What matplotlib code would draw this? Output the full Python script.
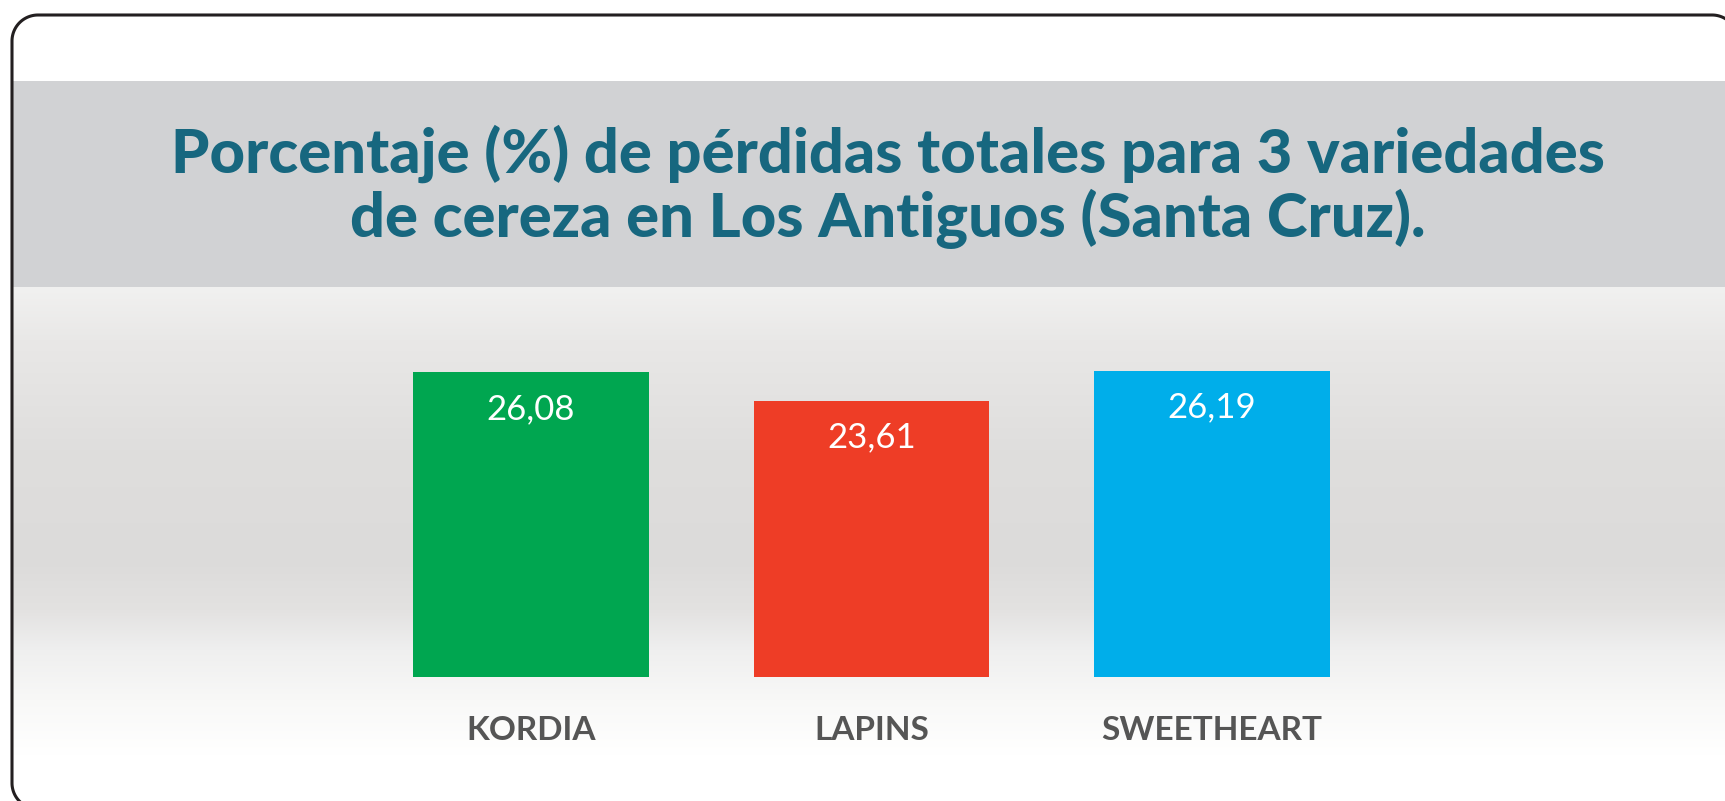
import numpy as np
import matplotlib.pyplot as plt
from matplotlib.patches import Rectangle, PathPatch
from matplotlib.path import Path

# datos
variedades = ['KORDIA', 'LAPINS', 'SWEETHEART']
perdidas = [26.08, 23.61, 26.19]
etiquetas = ['26,08', '23,61', '26,19']
colores = ['#00a650', '#ee3d26', '#00aeea']

titulo = ['Porcentaje (%) de pérdidas totales para 3 variedades',
          'de cereza en Los Antiguos (Santa Cruz).']

W, H = 1725, 801
fig = plt.figure(figsize=(W / 100, H / 100), dpi=100)
fig.patch.set_facecolor('white')

# fondo dibujado en coordenadas de pixel
bg = fig.add_axes([0, 0, 1, 1])
bg.set_xlim(0, W)
bg.set_ylim(H, 0)
bg.axis('off')


def arco(cx, cy, r, a0, a1, n=30):
    a = np.radians(np.linspace(a0, a1, n))
    return np.column_stack([cx + r * np.cos(a), cy + r * np.sin(a)])


# marco redondeado (y hacia abajo)
r = 26
pts = np.vstack([
    arco(12 + r, 783, r, 115, 180),       # esquina inferior izquierda
    arco(12 + r, 15 + r, r, 180, 270),    # esquina superior izquierda
    arco(1712, 15 + r, r, 270, 330),      # esquina superior derecha
])
borde = Path(pts)
cerrado = Path(np.vstack([pts, [[W + 50, 80], [W + 50, H + 50], [0, H + 50]], pts[:1]]))
clip = PathPatch(cerrado, fc='none', ec='none', transform=bg.transData)

# degradado gris del area del grafico
ys = np.array([287, 340, 450, 560, 610, 650, 700, 755])
cols = ['#f1f1f0', '#e9e8e7', '#dfdedd', '#dcdbda', '#e3e2e1', '#efefef', '#f8f8f7', '#ffffff']
rgb = np.array([[int(c[i:i + 2], 16) / 255 for i in (1, 3, 5)] for c in cols])
yy = np.arange(287, 756)
grad = np.stack([np.interp(yy, ys, rgb[:, k]) for k in range(3)], axis=1)[:, None, :]
im = bg.imshow(grad, extent=[12, W, 755, 287], aspect='auto', interpolation='bilinear', zorder=1)
im.set_clip_path(clip)
bg.set_xlim(0, W)
bg.set_ylim(H, 0)

# banda del titulo
banda = Rectangle((12, 81), W, 206, fc='#d1d2d4', ec='none', zorder=2)
bg.add_patch(banda)
banda.set_clip_path(clip)

bg.add_patch(PathPatch(borde, fc='none', ec='#231f20', lw=2.2, zorder=5, capstyle='butt'))

# titulo, ajustado al ancho de la primera linea
t1 = bg.text(888, 173, titulo[0], ha='center', va='baseline', fontsize=40,
             family='Lato', weight='black', color='#17677f', zorder=6)
fig.canvas.draw()
ancho = t1.get_window_extent().width
fs = 40 * 1432 / ancho
t1.set_fontsize(fs)
bg.text(888, 237, titulo[1], ha='center', va='baseline', fontsize=fs,
        family='Lato', weight='black', color='#17677f', zorder=6)

# barras
ax = fig.add_axes([360.75 / W, 124 / H, 1021.5 / W, 350.8 / H])
ax.patch.set_alpha(0)
x = np.arange(len(variedades))
ax.bar(x, perdidas, width=0.693, color=colores, zorder=3)
ax.set_xlim(-0.5, 2.5)
ax.set_ylim(0, 30)
ax.axis('off')

for i in range(len(x)):
    ax.annotate(etiquetas[i], (x[i], perdidas[i]), xytext=(0, -26.5), textcoords='offset points',
                ha='center', va='center', fontsize=25, family='Lato', color='white', zorder=4)
    ax.annotate(variedades[i], (x[i], 0), xytext=(0, -38.5), textcoords='offset points',
                ha='center', va='center', fontsize=24, family='Lato', weight='bold',
                color='#555555', annotation_clip=False)

fig.savefig('out.png', dpi=100)
